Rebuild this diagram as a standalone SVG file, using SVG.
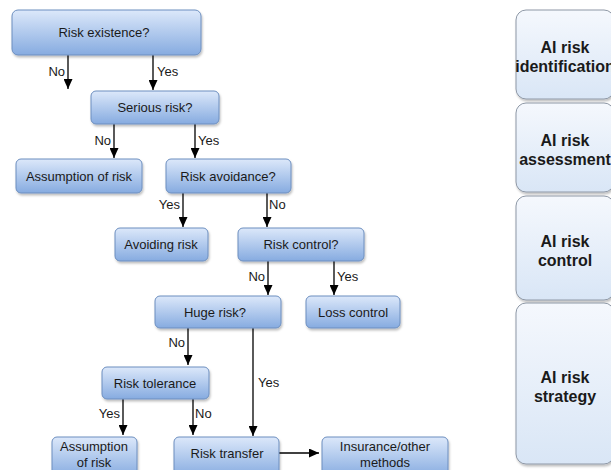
<svg xmlns="http://www.w3.org/2000/svg" width="611" height="470" viewBox="0 0 611 470">
  <defs>
    <linearGradient id="blueGrad" x1="0" y1="0" x2="0" y2="1">
      <stop offset="0" stop-color="#dce8fa"/>
      <stop offset="1" stop-color="#86abe0"/>
    </linearGradient>
    <linearGradient id="paleGrad" x1="0" y1="0" x2="0" y2="1">
      <stop offset="0" stop-color="#f5f8fd"/>
      <stop offset="1" stop-color="#d9e6f6"/>
    </linearGradient>
    <filter id="shadow" x="-10%" y="-10%" width="130%" height="140%">
      <feDropShadow dx="1" dy="2" stdDeviation="1" flood-color="#000" flood-opacity="0.25"/>
    </filter>
    <marker id="arrow" markerUnits="userSpaceOnUse" markerWidth="10" markerHeight="9" refX="10" refY="4.5" orient="auto">
      <path d="M0,0 L10,4.5 L0,9 z" fill="#000"/>
    </marker>
    <style>
      .box { fill: url(#blueGrad); stroke: #6c8ebf; stroke-width: 1; filter: url(#shadow); }
      .pale { fill: url(#paleGrad); stroke: #8e98a6; stroke-width: 1; filter: url(#shadow); }
      .t { font-family: "Liberation Sans", Arial, sans-serif; font-size: 13px; fill: #1a1a1a; text-anchor: middle; }
      .lab { font-family: "Liberation Sans", Arial, sans-serif; font-size: 13px; fill: #1a1a1a; }
      .end { text-anchor: end; }
      .big { font-family: "Liberation Sans", Arial, sans-serif; font-size: 16px; font-weight: bold; fill: #1a1a1a; text-anchor: middle; }
      .conn line { stroke: #000; stroke-width: 1.3; marker-end: url(#arrow); }
    </style>
  </defs>
  <rect width="611" height="470" fill="#ffffff"/>

  <g id="connectors" class="conn">
    <line x1="68" y1="55" x2="68" y2="89"/>
    <line x1="153" y1="55" x2="153" y2="90"/>
    <line x1="114" y1="124" x2="114" y2="158"/>
    <line x1="195" y1="124" x2="195" y2="158"/>
    <line x1="183" y1="193" x2="183" y2="227"/>
    <line x1="267" y1="193" x2="267" y2="227"/>
    <line x1="268" y1="261" x2="268" y2="295"/>
    <line x1="334" y1="261" x2="334" y2="295"/>
    <line x1="188" y1="328" x2="188" y2="365"/>
    <line x1="253" y1="328" x2="253" y2="436"/>
    <line x1="123" y1="399" x2="123" y2="435"/>
    <line x1="193" y1="399" x2="193" y2="435"/>
    <line x1="279" y1="453" x2="319" y2="453"/>
  </g>
  <g id="connector-labels">
    <text class="lab end" x="65" y="76">No</text>
    <text class="lab" x="157" y="76">Yes</text>
    <text class="lab end" x="111" y="145">No</text>
    <text class="lab" x="198" y="145">Yes</text>
    <text class="lab end" x="180" y="209">Yes</text>
    <text class="lab" x="269" y="209">No</text>
    <text class="lab end" x="265" y="281">No</text>
    <text class="lab" x="337" y="281">Yes</text>
    <text class="lab end" x="185" y="347">No</text>
    <text class="lab" x="258" y="387">Yes</text>
    <text class="lab end" x="120" y="418">Yes</text>
    <text class="lab" x="195" y="418">No</text>
  </g>

  <g id="risk-existence">
    <rect class="box" x="12" y="10" width="189" height="45" rx="6"/>
    <text class="t" x="104" y="37">Risk existence?</text>
  </g>
  <g id="serious-risk">
    <rect class="box" x="91" y="91" width="128" height="33" rx="5"/>
    <text class="t" x="155" y="112">Serious risk?</text>
  </g>
  <g id="assumption-1">
    <rect class="box" x="16" y="159" width="126" height="34" rx="5"/>
    <text class="t" x="79" y="181">Assumption of risk</text>
  </g>
  <g id="risk-avoidance">
    <rect class="box" x="166" y="159" width="125" height="34" rx="5"/>
    <text class="t" x="228" y="181">Risk avoidance?</text>
  </g>
  <g id="avoiding-risk">
    <rect class="box" x="115" y="228" width="93" height="33" rx="5"/>
    <text class="t" x="161" y="249">Avoiding risk</text>
  </g>
  <g id="risk-control">
    <rect class="box" x="238" y="228" width="126" height="33" rx="5"/>
    <text class="t" x="301" y="249">Risk control?</text>
  </g>
  <g id="huge-risk">
    <rect class="box" x="155" y="296" width="126" height="32" rx="5"/>
    <text class="t" x="215" y="317">Huge risk?</text>
  </g>
  <g id="loss-control">
    <rect class="box" x="306" y="296" width="94" height="32" rx="5"/>
    <text class="t" x="353" y="317">Loss control</text>
  </g>
  <g id="risk-tolerance">
    <rect class="box" x="102" y="367" width="107" height="32" rx="5"/>
    <text class="t" x="155" y="388">Risk tolerance</text>
  </g>
  <g id="assumption-2">
    <rect class="box" x="52" y="437" width="85" height="40" rx="5"/>
    <text class="t" x="94" y="451">Assumption</text>
    <text class="t" x="94" y="467">of risk</text>
  </g>
  <g id="risk-transfer">
    <rect class="box" x="174" y="437" width="105" height="40" rx="5"/>
    <text class="t" x="227" y="458">Risk transfer</text>
  </g>
  <g id="insurance">
    <rect class="box" x="322" y="437" width="126" height="40" rx="5"/>
    <text class="t" x="385" y="451">Insurance/other</text>
    <text class="t" x="385" y="467">methods</text>
  </g>

  <g id="ai-risk-identification">
    <rect class="pale" x="516" y="10" width="98" height="89" rx="10"/>
    <text class="big" x="565" y="53">AI risk</text>
    <text class="big" x="565" y="72">identification</text>
  </g>
  <g id="ai-risk-assessment">
    <rect class="pale" x="516" y="103" width="98" height="89" rx="10"/>
    <text class="big" x="565" y="146">AI risk</text>
    <text class="big" x="565" y="165">assessment</text>
  </g>
  <g id="ai-risk-control">
    <rect class="pale" x="516" y="196" width="98" height="104" rx="10"/>
    <text class="big" x="565" y="247">AI risk</text>
    <text class="big" x="565" y="266">control</text>
  </g>
  <g id="ai-risk-strategy">
    <rect class="pale" x="516" y="303" width="98" height="161" rx="10"/>
    <text class="big" x="565" y="383">AI risk</text>
    <text class="big" x="565" y="402">strategy</text>
  </g>
</svg>
